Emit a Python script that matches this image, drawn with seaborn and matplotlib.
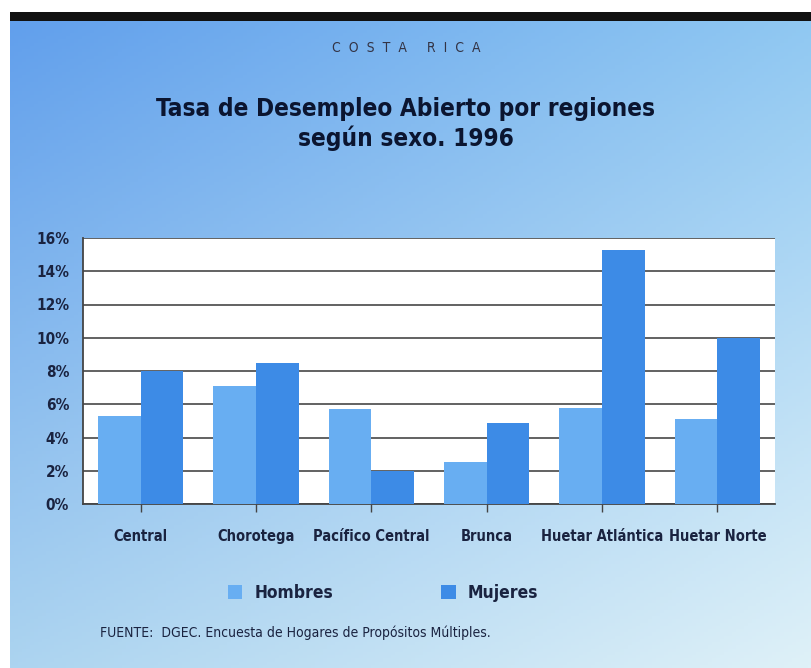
import numpy as np
import pandas as pd
import matplotlib
matplotlib.use("Agg")
import matplotlib.pyplot as plt
import matplotlib.colors as mcolors
from matplotlib.patches import Patch
import seaborn as sns

# datos
regiones = ["Central", "Chorotega", "Pacífico Central", "Brunca", "Huetar Atlántica", "Huetar Norte"]
hombres = [5.3, 7.1, 5.7, 2.5, 5.8, 5.1]
mujeres = [8.0, 8.5, 2.0, 4.9, 15.3, 10.0]
series = ["Hombres", "Mujeres"]
yticks = [0, 2, 4, 6, 8, 10, 12, 14, 16]
colores = {"Hombres": "#68aef2", "Mujeres": "#3d8be6"}

df = pd.DataFrame({
    "region": regiones * 2,
    "sexo": ["Hombres"] * len(regiones) + ["Mujeres"] * len(regiones),
    "tasa": hombres + mujeres,
})

sns.set_theme(style="white")
# DejaVu Sans Condensed, parecido a la letra estrecha del original
plt.rcParams["font.family"] = ["DejaVu Sans"]
plt.rcParams["font.stretch"] = "condensed"

W, H = 812, 668
fig = plt.figure(figsize=(W / 100, H / 100), dpi=100)
fig.patch.set_facecolor("white")

# fondo degradado
bg = fig.add_axes([10 / W, 0, 1 - 10 / W, 1 - 20 / H])
c_tl = np.array(mcolors.to_rgb("#619fec"))
c_tr = np.array(mcolors.to_rgb("#90c8f2"))
c_bl = np.array(mcolors.to_rgb("#acd4f0"))
c_br = np.array(mcolors.to_rgb("#dff1f8"))
gx = np.linspace(0, 1, 200)[None, :, None]
gy = np.linspace(0, 1, 200)[:, None, None]
img = (1 - gy) * ((1 - gx) * c_tl + gx * c_tr) + gy * ((1 - gx) * c_bl + gx * c_br)
bg.imshow(img, aspect="auto", extent=[0, 1, 0, 1], origin="upper")
bg.set_axis_off()

# barra negra superior
fig.add_artist(plt.Rectangle((10 / W, 1 - 21 / H), 1 - 10 / W, 9 / H,
                             transform=fig.transFigure, color="#111111", lw=0))

fig.text(0.5, 1 - 48 / H, "C  O  S  T  A     R  I  C  A", ha="center", va="center",
         fontsize=10, color="#333344")
fig.text(0.5, 1 - 124 / H, "Tasa de Desempleo Abierto por regiones\nsegún sexo. 1996",
         ha="center", va="center", fontsize=17.5, fontweight="bold", color="#0b1530",
         linespacing=1.2)

ax = fig.add_axes([83 / W, (H - 504) / H, 692 / W, 266 / H])
ax.set_facecolor("white")
sns.barplot(data=df, x="region", y="tasa", hue="sexo", order=regiones, hue_order=series,
            palette=colores, width=0.74, saturation=1, ax=ax, legend=False, zorder=3,
            edgecolor="none", linewidth=0)

ax.set_ylim(0, 16)
ax.set_yticks(yticks)
ax.set_yticklabels([f"{v}%" for v in yticks], fontsize=11, fontweight="bold", color="#1a2340")
ax.yaxis.grid(True, color="#555555", lw=1.3, zorder=0)
ax.set_axisbelow(True)
ax.tick_params(axis="y", length=0, pad=10)
ax.tick_params(axis="x", length=6, width=1, color="#444444", direction="out", bottom=True, pad=12)
ax.set_xticklabels(regiones, fontsize=10.5, fontweight="bold", color="#1a2340")
ax.set_xlabel("")
ax.set_ylabel("")
for s in ["top", "right"]:
    ax.spines[s].set_visible(False)
for s in ["left", "bottom"]:
    ax.spines[s].set_color("#444444")
    ax.spines[s].set_linewidth(1.3)

handles = [Patch(facecolor=colores[s], edgecolor="none") for s in series]
fig.legend(handles, series, loc="center", bbox_to_anchor=(383 / W, 1 - 593 / H), ncol=2,
           frameon=False, prop={"size": 12.5, "weight": "bold", "stretch": "condensed"},
           handlelength=0.85, handleheight=0.85, columnspacing=6.2, handletextpad=0.7,
           labelcolor="#1a2340")

fig.text(100 / W, 1 - 633 / H, "FUENTE:  DGEC. Encuesta de Hogares de Propósitos Múltiples.",
         ha="left", va="center", fontsize=10, color="#1a2340")

fig.savefig("out.png", dpi=100)
